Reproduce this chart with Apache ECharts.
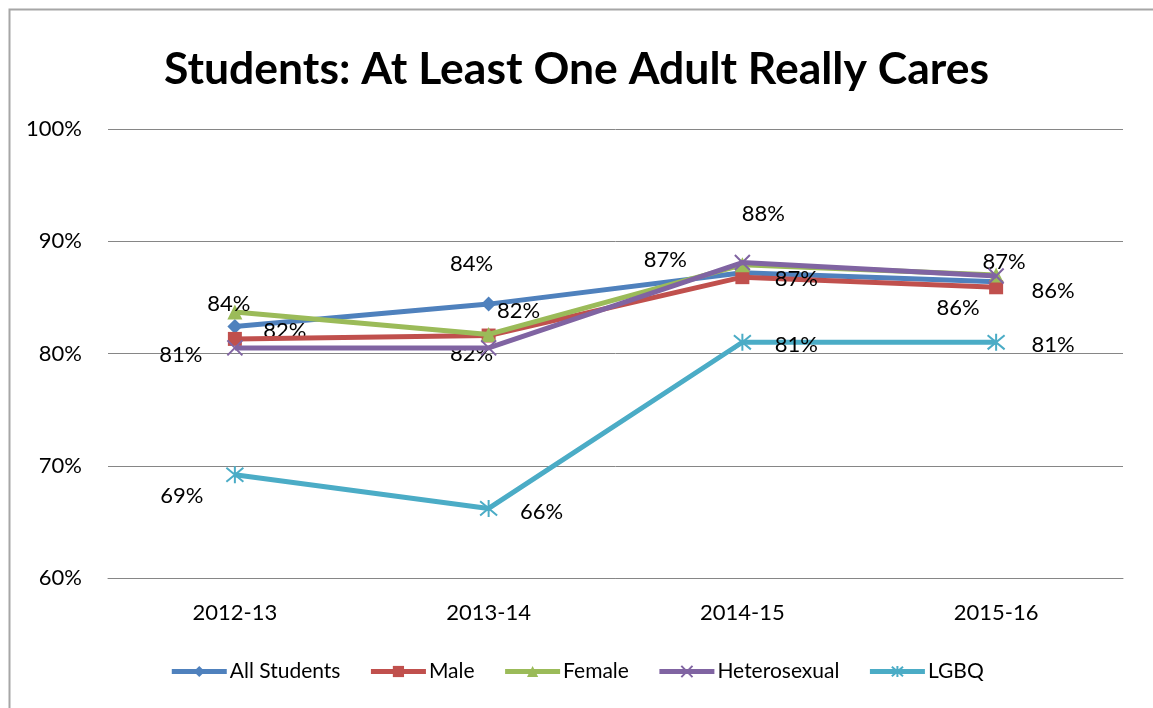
<!DOCTYPE html>
<html>
<head>
<meta charset="utf-8">
<script src="https://cdn.jsdelivr.net/npm/echarts@6/dist/echarts.min.js"></script>
<style>
html,body{margin:0;padding:0;background:#fff;}
#chart{width:1153px;height:708px;}
</style>
</head>
<body>
<div id="chart"></div>
<script>
// ---- Data ----
const categories = ['2012-13', '2013-14', '2014-15', '2015-16'];
const seriesNames = ['All Students', 'Male', 'Female', 'Heterosexual', 'LGBQ'];
const allStudents = [82.4, 84.4, 87.2, 86.4];
const male = [81.3, 81.6, 86.8, 85.9];
const female = [83.7, 81.7, 87.9, 87.0];
const heterosexual = [80.5, 80.5, 88.1, 86.9];
const lgbq = [69.2, 66.2, 81.0, 81.0];
const yTicks = [60, 70, 80, 90, 100];

// ---- Presentation ----
const values = [allStudents, male, female, heterosexual, lgbq];
const colors = ['#4F81BD', '#C0504D', '#9BBB59', '#8064A2', '#4BACC6'];
const symbols = ['diamond', 'rect', 'triangle',
  'path://M0,0L10,10M10,0L0,10',
  'path://M0,0L10,10M10,0L0,10M5,-1L5,11'];
const symbolSizes = [15, 14, 15, 15, 17];
const borderWidths = [0, 0, 0, 2, 2];
// label offsets (dx, dy) from the point; null = label hidden
const labelPlace = [
  [[50, 4], [-17, -40], [-77, -13], [-38, 26]],
  [null, [30, -25], [54, 2], [57, 4]],
  [[-6, -8], [-17, 19], null, [8, -13]],
  [[-54, 7], null, [21, -49], null],
  [[-53, 21], [53, 4], [54, 3], [57, 3]]
];

const FONT = 'Lato';

const series = seriesNames.map((name, i) => ({
  name: name,
  type: 'line',
  symbol: symbols[i],
  symbolSize: symbolSizes[i],
  showAllSymbol: true,
  lineStyle: { color: colors[i], width: 5 },
  itemStyle: { color: colors[i], borderColor: colors[i], borderWidth: borderWidths[i] },
  emphasis: { disabled: true },
  z: 2 + i,
  data: values[i].map((v, j) => {
    const p = labelPlace[i][j];
    return {
      value: v,
      label: p ? {
        show: true, position: 'inside', offset: p,
        formatter: (prm) => Math.round(prm.value) + '%',
        color: '#000', fontSize: 22, fontFamily: FONT
      } : { show: false }
    };
  })
}));

const chart = echarts.init(document.getElementById('chart'), null, { renderer: 'canvas' });
chart.setOption({
  animation: false,
  backgroundColor: '#fff',
  graphic: [{
    type: 'rect', left: 7, top: 7, silent: true,
    shape: { x: 0, y: 0, width: 1160, height: 720 },
    style: { fill: 'none', stroke: '#a6a6a6', lineWidth: 2 }
  }],
  title: {
    text: 'Students: At Least One Adult Really Cares',
    left: 'center', top: 42,
    textStyle: { fontFamily: FONT, fontWeight: 'bold', fontSize: 44.5, color: '#000' }
  },
  legend: {
    data: seriesNames,
    bottom: 21, left: 'center',
    itemWidth: 55, itemHeight: 14, itemGap: 28,
    lineStyle: { width: 5 },
    textStyle: { fontFamily: FONT, fontSize: 21, color: '#000', padding: [0, 0, 0, -2] }
  },
  grid: { left: 108, right: 30, top: 129, bottom: 130 },
  xAxis: {
    type: 'category', data: categories, boundaryGap: true,
    axisLine: { lineStyle: { color: '#868686', width: 1 } },
    axisTick: { show: false },
    axisLabel: { color: '#000', fontFamily: FONT, fontSize: 22, margin: 24 }
  },
  yAxis: {
    type: 'value', min: yTicks[0], max: yTicks[yTicks.length - 1], interval: 10,
    axisLine: { show: false }, axisTick: { show: false },
    splitLine: { lineStyle: { color: '#868686', width: 1 } },
    axisLabel: { color: '#000', fontFamily: FONT, fontSize: 22, margin: 26, formatter: '{value}%' }
  },
  series: series
});
</script>
</body>
</html>
